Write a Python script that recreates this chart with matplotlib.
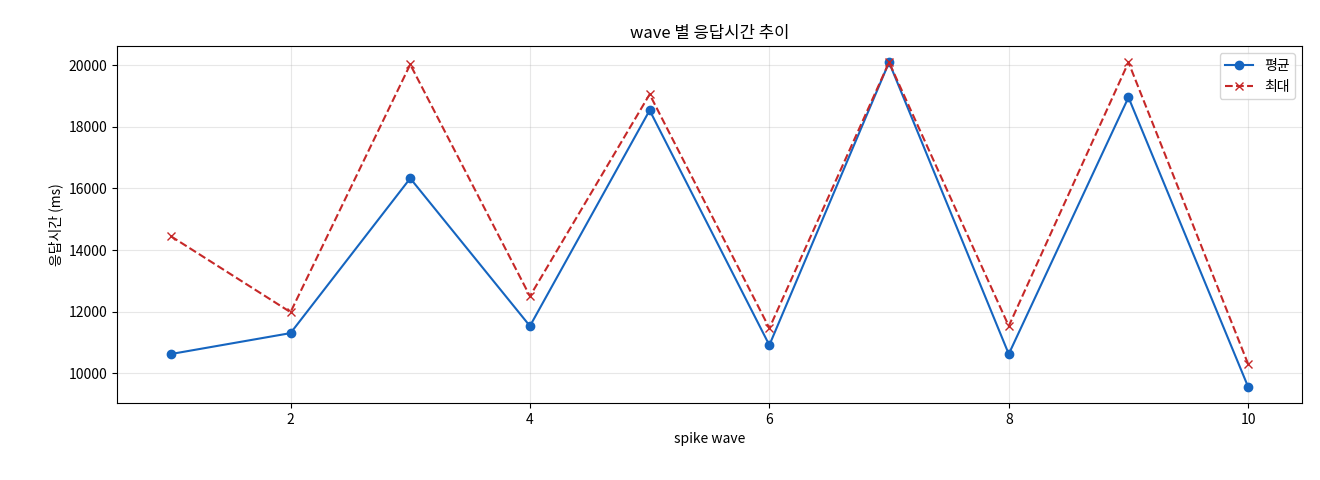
import matplotlib
matplotlib.use("Agg")
import matplotlib.pyplot as plt

plt.rcParams['font.family'] = ['Noto Sans CJK KR', 'DejaVu Sans']

waves = [1, 2, 3, 4, 5, 6, 7, 8, 9, 10]
avg_ms = [10620, 11300, 16330, 11530, 18540, 10910, 20100, 10620, 18960, 9550]
max_ms = [14450, 11980, 20030, 12500, 19060, 11460, 20100, 11530, 20100, 10290]

fig, ax = plt.subplots(figsize=(13.2, 4.8), dpi=100)
fig.subplots_adjust(left=0.0886, right=0.9864, top=0.904, bottom=0.16)
ax.plot(waves, avg_ms, marker='o', color='#1565c0', label='평균', markersize=6)
ax.plot(waves, max_ms, marker='x', linestyle='--', color='#c62828', label='최대', markersize=6)
ax.set_title('wave 별 응답시간 추이')
ax.set_xlabel('spike wave')
ax.set_ylabel('응답시간 (ms)')
ax.grid(True, alpha=0.3)
ax.legend(loc='upper right')
fig.savefig('out.png')
